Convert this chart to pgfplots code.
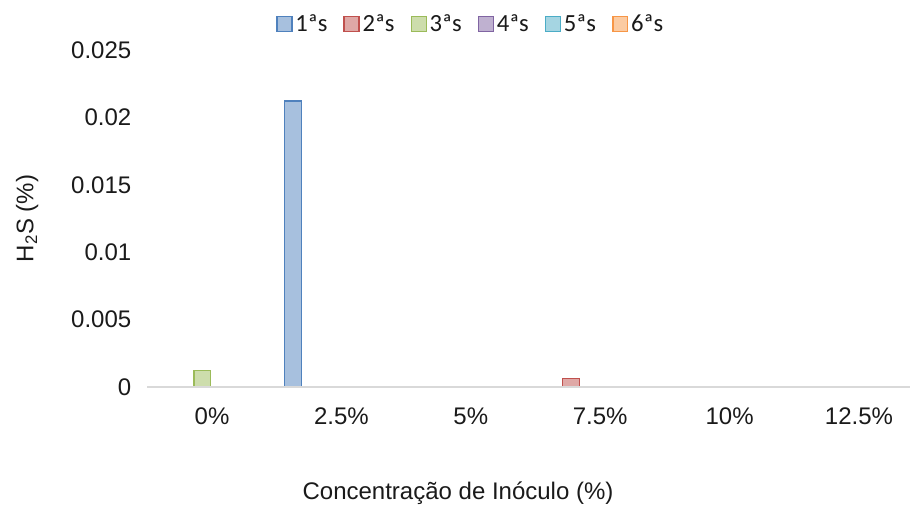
\documentclass[border=0pt]{standalone}
\usepackage{pgfplots}
\pgfplotsset{compat=1.18}
\usepackage{fontspec}
\setmainfont{Liberation Sans}
\newfontfamily\calibri{Carlito}

% cores das series (borda / preenchimento)
\definecolor{s1}{HTML}{4F81BD}
\definecolor{s2}{HTML}{C0504D}
\definecolor{s3}{HTML}{9BBB59}
\definecolor{s4}{HTML}{8064A2}
\definecolor{s5}{HTML}{4BACC6}
\definecolor{s6}{HTML}{F79646}
\definecolor{txt}{HTML}{1A1A1A}

\begin{document}
\begin{tikzpicture}
    \begin{axis}[
        at={(110.5pt,-290.25pt)}, anchor=south west,
        scale only axis,
        width=572pt, height=252.75pt,
        ybar, bar width=0.13,
        xmin=-0.5, xmax=5.394,
        ymin=0, ymax=0.025,
        xtick={0,1,2,3,4,5},
        xticklabels={0\%,2.5\%,5\%,7.5\%,10\%,12.5\%},
        ytick={0,0.005,0.01,0.015,0.02,0.025},
        yticklabels={0,0.005,0.01,0.015,0.02,0.025},
        scaled y ticks=false,
        /pgf/number format/assume math mode=true,
        major tick length=0pt,
        axis x line*=bottom,
        axis y line*=left,
        x axis line style={draw=black!15, line width=1.2pt, -},
        y axis line style={draw=none},
        axis on top,
        tick label style={font=\fontsize{18}{21}\selectfont, text=txt},
        xticklabel style={anchor=base, yshift=-27.75pt},
        yticklabel style={anchor=east, xshift=-8.5pt},
        xlabel={Concentração de Inóculo (\%)},
        ylabel={H\textsubscript{2}S (\%)},
        label style={font=\fontsize{18}{21}\selectfont, text=txt},
        xlabel style={at={(axis description cs:0.4074,-0.3145)}, anchor=center},
        ylabel style={at={(axis description cs:-0.1577,0.5)}, anchor=center, rotate=0},
        legend columns=6,
        legend style={
            at={(axis description cs:0.4245,1.077)}, anchor=center,
            draw=none, fill=none,
            font=\calibri\fontsize{18.5}{21}\selectfont, text=txt,
            /tikz/every even column/.append style={column sep=10pt},
            inner sep=0pt,
        },
        legend image code/.code={
            \draw[#1, line width=1.1pt] (0pt,-5.6pt) rectangle (11.2pt,5.6pt);
        },
    ]

    % 1a semana
    \addplot [draw=s1, fill=s1!50!white, line width=1.1pt, bar shift=-0.375]
    coordinates {(0,0) (1,0.0212) (2,0) (3,0) (4,0) (5,0)};
    \addlegendentry{1ªs}
    % 2a semana
    \addplot [draw=s2, fill=s2!50!white, line width=1.1pt, bar shift=-0.225]
    coordinates {(0,0) (1,0) (2,0) (3,0.00063) (4,0) (5,0)};
    \addlegendentry{2ªs}
    % 3a semana
    \addplot [draw=s3, fill=s3!50!white, line width=1.1pt, bar shift=-0.075]
    coordinates {(0,0.00122) (1,0) (2,0) (3,0) (4,0) (5,0)};
    \addlegendentry{3ªs}
    % 4a semana
    \addplot [draw=s4, fill=s4!50!white, line width=1.1pt, bar shift=0.075]
    coordinates {(0,0) (1,0) (2,0) (3,0) (4,0) (5,0)};
    \addlegendentry{4ªs}
    % 5a semana
    \addplot [draw=s5, fill=s5!50!white, line width=1.1pt, bar shift=0.225]
    coordinates {(0,0) (1,0) (2,0) (3,0) (4,0) (5,0)};
    \addlegendentry{5ªs}
    % 6a semana
    \addplot [draw=s6, fill=s6!50!white, line width=1.1pt, bar shift=0.375]
    coordinates {(0,0) (1,0) (2,0) (3,0) (4,0) (5,0)};
    \addlegendentry{6ªs}

    \end{axis}
    \pgfresetboundingbox
    \path[use as bounding box] (0,0) rectangle (682.5pt,-381.75pt);
\end{tikzpicture}
\end{document}
